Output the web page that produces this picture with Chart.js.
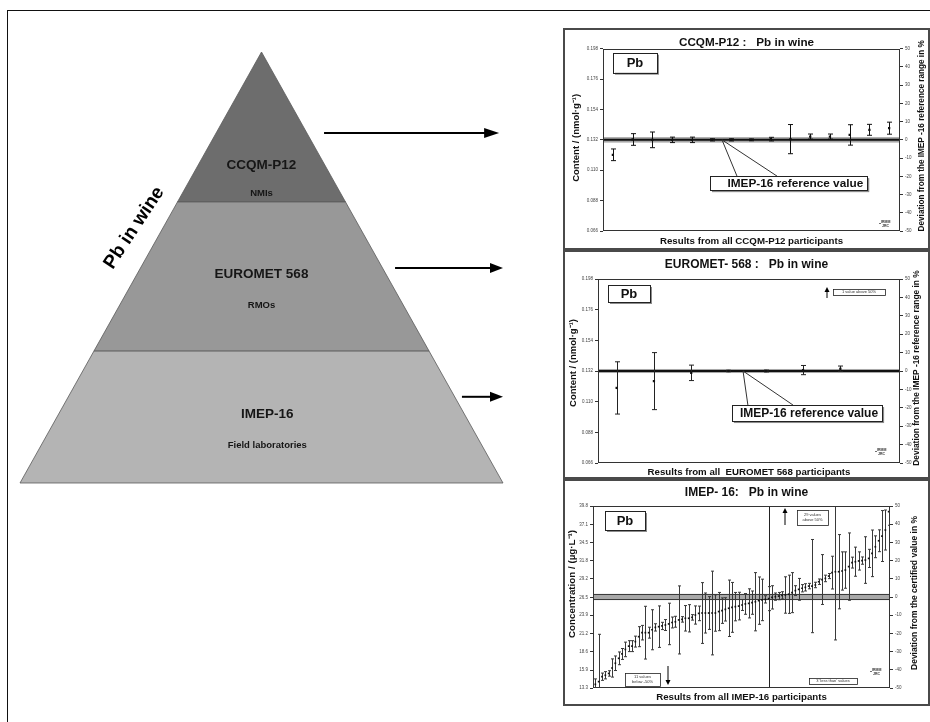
<!DOCTYPE html>
<html>
<head>
<meta charset="utf-8">
<title>Pb in wine</title>
<script src="https://cdn.jsdelivr.net/npm/chart.js@4.4.1/dist/chart.umd.min.js"></script>
<style>
  body { margin: 0; background: #fff; }
  #page { position: relative; width: 930px; height: 722px; overflow: hidden; background: #fff; }
  #frame { position: absolute; left: 7px; top: 10px; width: 940px; height: 740px; border-left: 1px solid #111; border-top: 1px solid #111; }
  #pyramid { position: absolute; left: 0; top: 0; }
  .panel { position: absolute; left: 563px; width: 367px; border: 2px solid #4a4a4a; box-sizing: border-box; background: #fff; }
  .panel canvas { display: block; }
</style>
</head>
<body>
<div id="page">
  <div id="frame"></div>
  <canvas id="pyramid" width="930" height="722"></canvas>
  <div class="panel" style="top:28px;height:222px"><canvas id="ccqm" width="363" height="218"></canvas></div>
  <div class="panel" style="top:250px;height:229px"><canvas id="euromet" width="363" height="225"></canvas></div>
  <div class="panel" style="top:479px;height:227px"><canvas id="imep" width="363" height="223"></canvas></div>
</div>
<script>
// ---- data ----
// pyramid, bottom to top
const pyramidLevels = ['IMEP-16', 'EUROMET 568', 'CCQM-P12'];
const pyramidGroups = ['Field laboratories', 'RMOs', 'NMIs'];
const pyramidBreaks = [0, 0.306, 0.652, 1];   // relative height of the layer borders

// right axis of every panel: deviation in %
const deviationTicks = [-50, -40, -30, -20, -10, 0, 10, 20, 30, 40, 50];

// CCQM-P12 (NMIs)
const ccqmDeviation = [-8.2, 0.2, 0, 0, 0, 0, 0, 0, 0.4, 0.4, 1.8, 1.8, 2.7, 5.5, 6.4];
const ccqmUncertainty = [3.2, 3.2, 4.3, 1.5, 1.5, 0.6, 0.6, 0.5, 1, 8, 1.4, 1.4, 5.6, 3, 3.3];
const ccqmContentTicks = [0.066, 0.088, 0.110, 0.132, 0.154, 0.176, 0.198];
const ccqmRefBand = [-1.5, 1.5];

// EUROMET 568 (RMOs)
const eurometDeviation = [-9.2, -5.5, -1, 0, 0, 0.5, 1.2];
const eurometUncertainty = [14.2, 15.5, 4.2, 0.4, 0.5, 2.5, 1.5];
const eurometContentTicks = [0.066, 0.088, 0.110, 0.132, 0.154, 0.176, 0.198];
const eurometRefBand = [-1.1, 1.1];

// IMEP-16 (field laboratories), sorted results
const imepDeviation = [
  -48, -46.5, -43.8, -43, -42, -39, -36.4, -33.7, -31.3, -28.8,
  -27, -27, -24.5, -21.8, -19.6, -19.6, -19.6, -18, -16.7, -16.3,
  -15.9, -15.4, -14.8, -14, -13.6, -12.6, -12.3, -11.7, -11.7, -11.2,
  -9.9, -9, -8.8, -8.8, -8.8, -8.8, -8.8, -8, -7.5, -6.8,
  -6.2, -5.7, -5.3, -5, -4.4, -3.8, -3.5, -3.1, -2.6, -2,
  -1.6, -1.3, -0.9, -0.2, 0.2, 0.5, 0.9, 1.1, 1.5,
  2.4, 3.5, 4.2, 4.8, 5.3, 6, 6, 6.6, 8.4, 9.6,
  10.2, 11.5, 13.4, 13.9, 13.9, 14.3, 14.8, 16.7, 18.9, 19.4,
  19.8, 20, 20.3, 21.2, 24, 27.6, 30.9, 33.5, 36.8, 46.9
];
const imepUncertainty = [
  3, 26, 2, 2, 1.5, 5, 4, 3.5, 3, 4,
  3, 3, 3, 5.5, 4, 14.5, 3, 11, 2, 11.4,
  2, 3, 11.4, 3, 3, 18.7, 1.5, 7, 7.5, 1.5,
  5, 4, 16.7, 11, 9, 23, 10, 10.5, 7, 6.4,
  15.5, 13.7, 7.8, 7.6, 3, 5.7, 8, 6.4, 16, 13,
  11.4, 2, 6.6, 6.4, 2, 2, 2, 10, 10.5,
  11, 2.7, 6, 2, 2, 1.5, 25.6, 1.5, 1.5, 13.7,
  1.8, 1.4, 9, 37.5, 20.4, 10.5, 10, 18.5, 3, 8,
  5, 2, 12.8, 5, 12.8, 6, 6, 14, 11, 7.5
];
const imepConcTicks = [13.3, 15.9, 18.6, 21.2, 23.9, 26.5, 29.2, 31.8, 34.5, 37.1, 39.8];
const imepRefBand = [-1.4, 1.4];
const imepSplitAt = 53;   // participant index where the vertical line sits

const FONT = '"Liberation Sans", Arial, sans-serif';
const shades = ['#b4b4b4', '#989898', '#6d6d6d'];

// ---- pyramid ----
function layerPolygon(lo, hi) {
  return [
    {x: -(1 - lo), y: lo}, {x: 1 - lo, y: lo},
    {x: 1 - hi, y: hi}, {x: -(1 - hi), y: hi},
    {x: -(1 - lo), y: lo}
  ];
}

function hArrow(ctx, x0, x1, y, lw, headL, headW) {
  ctx.lineWidth = lw;
  ctx.beginPath();
  ctx.moveTo(x0, y);
  ctx.lineTo(x1 - headL + 1, y);
  ctx.stroke();
  ctx.beginPath();
  ctx.moveTo(x1, y);
  ctx.lineTo(x1 - headL, y - headW);
  ctx.lineTo(x1 - headL, y + headW);
  ctx.closePath();
  ctx.fill();
}

const pyramidText = {
  id: 'pyramidText',
  afterDatasetsDraw(chart) {
    const {ctx, scales: {x, y}} = chart;
    ctx.save();
    ctx.fillStyle = '#161616';
    ctx.textAlign = 'center';
    ctx.textBaseline = 'middle';
    const nameY = [0.160, 0.485, 0.738];
    const groupY = [0.088, 0.413, 0.673];
    const shiftX = [0.024, 0, 0];
    pyramidLevels.forEach((name, i) => {
      ctx.font = 'bold 13.5px ' + FONT;
      ctx.fillText(name, x.getPixelForValue(shiftX[i]), y.getPixelForValue(nameY[i]));
      ctx.font = 'bold 9.5px ' + FONT;
      ctx.fillText(pyramidGroups[i], x.getPixelForValue(shiftX[i]), y.getPixelForValue(groupY[i]));
    });
    // rotated heading along the left edge
    ctx.save();
    ctx.translate(x.getPixelForValue(-0.527), y.getPixelForValue(0.592));
    ctx.rotate(-56.5 * Math.PI / 180);
    ctx.font = 'bold 19px ' + FONT;
    ctx.fillStyle = '#000';
    ctx.fillText('Pb in wine', 0, 0);
    ctx.restore();
    // arrows to the panels
    ctx.strokeStyle = '#000';
    ctx.fillStyle = '#000';
    hArrow(ctx, x.getPixelForValue(0.259), x.getPixelForValue(0.984), y.getPixelForValue(0.812), 2, 15, 5);
    hArrow(ctx, x.getPixelForValue(0.553), x.getPixelForValue(1.0), y.getPixelForValue(0.499), 2, 13, 5);
    hArrow(ctx, x.getPixelForValue(0.830), x.getPixelForValue(1.0), y.getPixelForValue(0.200), 2, 13, 5);
    ctx.restore();
  }
};

new Chart(document.getElementById('pyramid'), {
  type: 'scatter',
  data: {
    datasets: pyramidLevels.map((name, i) => ({
      label: name,
      data: layerPolygon(pyramidBreaks[i], pyramidBreaks[i + 1]),
      showLine: true,
      fill: 'shape',
      backgroundColor: shades[i],
      borderColor: '#5a5a5a',
      borderWidth: 0.8,
      pointRadius: 0,
      tension: 0
    }))
  },
  options: {
    responsive: false,
    animation: false,
    layout: {padding: 0},
    plugins: {legend: {display: false}, tooltip: {enabled: false}},
    scales: {
      x: {type: 'linear', display: false, min: -261.5 / 241.5, max: (930 - 261.5) / 241.5},
      y: {type: 'linear', display: false, min: -(722 - 483) / 431, max: 483 / 431}
    }
  },
  plugins: [pyramidText]
});

// ---- panels ----
function shadowBox(ctx, x, y, w, h, sh) {
  ctx.fillStyle = '#8c8c8c';
  ctx.fillRect(x + sh, y + sh, w, h);
  ctx.fillStyle = '#fff';
  ctx.fillRect(x, y, w, h);
  ctx.strokeStyle = '#222';
  ctx.lineWidth = 1;
  ctx.strokeRect(Math.round(x) + 0.5, Math.round(y) + 0.5, Math.round(w), Math.round(h));
}

function vArrow(ctx, x, yTail, yTip) {
  const d = yTip < yTail ? 1 : -1;
  ctx.strokeStyle = '#000';
  ctx.fillStyle = '#000';
  ctx.lineWidth = 1;
  ctx.beginPath();
  ctx.moveTo(x, yTail);
  ctx.lineTo(x, yTip + d * 3);
  ctx.stroke();
  ctx.beginPath();
  ctx.moveTo(x, yTip);
  ctx.lineTo(x - 2.5, yTip + d * 5);
  ctx.lineTo(x + 2.5, yTip + d * 5);
  ctx.closePath();
  ctx.fill();
}

function noteBox(ctx, x, y, w, h, lines) {
  ctx.fillStyle = '#fff';
  ctx.fillRect(x, y, w, h);
  ctx.strokeStyle = '#222';
  ctx.lineWidth = 0.8;
  ctx.strokeRect(x + 0.5, y + 0.5, w, h);
  ctx.fillStyle = '#333';
  ctx.font = '4px ' + FONT;
  ctx.textAlign = 'center';
  ctx.textBaseline = 'middle';
  lines.forEach((t, i) => {
    ctx.fillText(t, x + w / 2, y + h / 2 + (i - (lines.length - 1) / 2) * 5);
  });
}

function logo(ctx, x, y) {
  ctx.fillStyle = '#333';
  ctx.font = 'bold 3.5px ' + FONT;
  ctx.textAlign = 'left';
  ctx.textBaseline = 'top';
  ctx.fillText('IRMM', x + 2, y);
  ctx.fillText('JRC', x + 3, y + 4);
  ctx.fillRect(x, y + 3, 2, 0.7);
}

function sideTitle(ctx, text, size, cx, cy) {
  ctx.save();
  ctx.translate(cx, cy);
  ctx.rotate(-Math.PI / 2);
  ctx.fillStyle = '#111';
  ctx.font = 'bold ' + size + 'px ' + FONT;
  ctx.textAlign = 'center';
  ctx.textBaseline = 'middle';
  ctx.fillText(text, 0, 0);
  ctx.restore();
}

function decor(p) {
  return {
    id: 'decor',
    beforeDatasetsDraw(chart) {
      const {ctx, chartArea: a, scales: {x, y}} = chart;
      ctx.save();
      const yHi = y.getPixelForValue(p.band[1]);
      const yLo = y.getPixelForValue(p.band[0]);
      ctx.fillStyle = '#a8a8a8';
      ctx.fillRect(a.left, yHi, a.width, yLo - yHi);
      ctx.strokeStyle = '#333';
      ctx.lineWidth = 1;
      if (p.bandEdges) {
        ctx.beginPath();
        ctx.moveTo(a.left, yHi); ctx.lineTo(a.right, yHi);
        ctx.moveTo(a.left, yLo); ctx.lineTo(a.right, yLo);
        ctx.stroke();
      }
      if (p.centerLine) {
        const y0 = y.getPixelForValue(0);
        ctx.strokeStyle = '#111';
        ctx.lineWidth = 2;
        ctx.beginPath();
        ctx.moveTo(a.left, y0); ctx.lineTo(a.right, y0);
        ctx.stroke();
      }
      if (p.split) {
        const xs = Math.round(x.getPixelForValue(p.split)) + 0.5;
        ctx.strokeStyle = '#222';
        ctx.lineWidth = 1;
        ctx.beginPath();
        ctx.moveTo(xs, a.top); ctx.lineTo(xs, a.bottom);
        ctx.stroke();
      }
      // error bars
      ctx.beginPath();
      ctx.rect(a.left, a.top, a.width, a.height);
      ctx.clip();
      ctx.strokeStyle = p.barColor;
      ctx.lineWidth = 1;
      p.values.forEach((v, i) => {
        const px = Math.round(x.getPixelForValue(i + 1)) + 0.5;
        const t = y.getPixelForValue(v + p.errors[i]);
        const b = y.getPixelForValue(v - p.errors[i]);
        ctx.beginPath();
        ctx.moveTo(px, t); ctx.lineTo(px, b);
        ctx.moveTo(px - p.cap, t); ctx.lineTo(px + p.cap, t);
        ctx.moveTo(px - p.cap, b); ctx.lineTo(px + p.cap, b);
        ctx.stroke();
      });
      ctx.restore();
    },
    afterDatasetsDraw(chart) {
      const {ctx, chartArea: a, scales: {x, y}} = chart;
      ctx.save();
      // plot frame
      ctx.strokeStyle = '#333';
      ctx.lineWidth = 1;
      ctx.strokeRect(Math.round(a.left) + 0.5, Math.round(a.top) + 0.5, Math.round(a.width) - 1, Math.round(a.height) - 1);
      // axis titles on both sides, reading bottom to top
      const midY = (a.top + a.bottom) / 2;
      sideTitle(ctx, p.leftTitle, p.leftTitleSize, p.leftTitleX, midY + p.leftTitleShift);
      sideTitle(ctx, p.rightTitle, p.rightTitleSize, chart.width - p.rightTitleOffset, midY + p.rightTitleShift);
      // element box
      const pb = p.pbBox;
      shadowBox(ctx, a.left + pb[0], a.top + pb[1], pb[2], pb[3], 2);
      ctx.fillStyle = '#111';
      ctx.font = 'bold 13px ' + FONT;
      ctx.textAlign = 'center';
      ctx.textBaseline = 'middle';
      ctx.fillText('Pb', a.left + pb[0] + pb[2] / 2, a.top + pb[1] + pb[3] / 2 + 1);
      // reference value call-out
      if (p.callout) {
        const c = p.callout;
        const bx0 = x.getPixelForValue(c.box[0]), bx1 = x.getPixelForValue(c.box[1]);
        const by0 = y.getPixelForValue(c.box[2]), by1 = y.getPixelForValue(c.box[3]);
        const tx = x.getPixelForValue(c.tip[0]), ty = y.getPixelForValue(c.tip[1]);
        ctx.strokeStyle = '#333';
        ctx.lineWidth = 1;
        ctx.beginPath();
        ctx.moveTo(x.getPixelForValue(c.from[0]), by0); ctx.lineTo(tx, ty);
        ctx.lineTo(x.getPixelForValue(c.from[1]), by0);
        ctx.stroke();
        shadowBox(ctx, bx0, by0, bx1 - bx0, by1 - by0, 2);
        ctx.fillStyle = '#111';
        ctx.font = 'bold ' + c.size + 'px ' + FONT;
        ctx.textAlign = 'right';
        ctx.textBaseline = 'middle';
        ctx.fillText('IMEP-16 reference value', bx1 - 4, (by0 + by1) / 2 + 1);
      }
      (p.arrows || []).forEach(ar => vArrow(ctx, a.left + ar[0], a.top + ar[1], a.top + ar[2]));
      (p.notes || []).forEach(n => noteBox(ctx, a.left + n[0], a.top + n[1], n[2], n[3], n[4]));
      logo(ctx, a.right + p.logo[0], a.bottom + p.logo[1]);
      ctx.restore();
    }
  };
}

function panel(id, p) {
  const tickFont = {family: FONT, size: 4.5};
  return new Chart(document.getElementById(id), {
    type: 'scatter',
    data: {
      datasets: [{
        data: p.values.map((v, i) => ({x: i + 1, y: v})),
        xAxisID: 'x',
        yAxisID: 'y',
        pointStyle: 'rect',
        pointRadius: p.pointR,
        backgroundColor: '#111',
        borderColor: '#111',
        borderWidth: 0
      }]
    },
    options: {
      responsive: false,
      animation: false,
      layout: {padding: 0},
      plugins: {
        legend: {display: false},
        tooltip: {enabled: false},
        title: {
          display: true, text: p.title, color: '#111',
          font: {family: FONT, size: p.titleSize, weight: 'bold', lineHeight: 1},
          padding: {top: p.titlePad[0], bottom: p.titlePad[1]}
        }
      },
      scales: {
        x: {
          type: 'linear', min: p.xRange[0], max: p.xRange[1],
          afterFit: s => { s.height = p.xH; },
          ticks: {display: false}, grid: {display: false}, border: {display: false},
          title: {
            display: true, text: p.xTitle, color: '#111',
            font: {family: FONT, size: 9.7, weight: 'bold', lineHeight: 1},
            padding: {top: 0, bottom: p.xTitlePad}
          }
        },
        y: {
          type: 'linear', position: 'right', min: -50, max: 50,
          afterBuildTicks: s => { s.ticks = deviationTicks.map(v => ({value: v})); },
          afterFit: s => { s.width = p.rightW; },
          ticks: {font: tickFont, color: '#444', padding: 2},
          grid: {drawOnChartArea: false, tickLength: 3, color: '#333'},
          border: {display: false}
        },
        yL: {
          type: 'linear', position: 'left',
          min: p.leftTicks[0], max: p.leftTicks[p.leftTicks.length - 1],
          afterBuildTicks: s => { s.ticks = p.leftTicks.map(v => ({value: v})); },
          afterFit: s => { s.width = p.leftW; },
          ticks: {font: tickFont, color: '#444', padding: 2, callback: v => v.toFixed(p.leftDec)},
          grid: {drawOnChartArea: false, tickLength: 3, color: '#333'},
          border: {display: false}
        }
      }
    },
    plugins: [decor(p)]
  });
}

panel('ccqm', {
  title: 'CCQM-P12 :   Pb in wine', titleSize: 11.7,
  xTitle: 'Results from all CCQM-P12 participants',
  leftTitle: 'Content / (nmol\u00b7g\u207b\u00b9)',
  rightTitle: 'Deviation from the IMEP -16 reference range in %',
  values: ccqmDeviation, errors: ccqmUncertainty, leftTicks: ccqmContentTicks, leftDec: 3,
  band: ccqmRefBand, centerLine: true, bandEdges: false,
  xRange: [0.5, 15.55],
  titlePad: [7, 0], xH: 17, xTitlePad: 2.15,
  leftW: 38, leftTitleSize: 9.5, leftTitleX: 11, leftTitleShift: -2,
  rightW: 28, rightTitleSize: 8.2, rightTitleOffset: 6, rightTitleShift: -4,
  pointR: 1.6, cap: 2.5, barColor: '#111',
  pbBox: [10, 4, 44, 20],
  callout: {box: [5.92, 13.89, -19.9, -27.6], tip: [6.53, 0], from: [7.29, 9.32], size: 11.8},
  logo: [-21, -11]
});

panel('euromet', {
  title: 'EUROMET- 568 :   Pb in wine', titleSize: 12,
  xTitle: 'Results from all  EUROMET 568 participants',
  leftTitle: 'Content / (nmol\u00b7g\u207b\u00b9)',
  rightTitle: 'Deviation from the IMEP -16 reference range in %',
  values: eurometDeviation, errors: eurometUncertainty, leftTicks: eurometContentTicks, leftDec: 3,
  band: eurometRefBand, centerLine: true, bandEdges: false,
  xRange: [0.5, 8.6],
  titlePad: [7, 8], xH: 14, xTitlePad: 0.15,
  leftW: 33, leftTitleSize: 9.5, leftTitleX: 8, leftTitleShift: -8,
  rightW: 28, rightTitleSize: 8.4, rightTitleOffset: 11, rightTitleShift: -3,
  pointR: 1.6, cap: 2.5, barColor: '#222',
  pbBox: [10, 6, 42, 17],
  callout: {box: [4.09, 8.12, -18.5, -27.2], tip: [4.39, 0], from: [4.52, 5.73], size: 12},
  arrows: [[229, 19, 8]],
  notes: [[235, 10, 52, 6, ['1 value above 50%']]],
  logo: [-25, -15]
});

panel('imep', {
  title: 'IMEP- 16:   Pb in wine', titleSize: 12,
  xTitle: 'Results from all IMEP-16 participants',
  leftTitle: 'Concentration / (\u00b5g\u00b7L\u207b\u00b9)',
  rightTitle: 'Deviation from the certified value in %',
  values: imepDeviation, errors: imepUncertainty, leftTicks: imepConcTicks, leftDec: 1,
  band: imepRefBand, centerLine: false, bandEdges: true, split: imepSplitAt,
  xRange: [0.3, 89.4],
  titlePad: [6, 7], xH: 16, xTitlePad: 2.15,
  leftW: 28, leftTitleSize: 9.8, leftTitleX: 7, leftTitleShift: -13,
  rightW: 38, rightTitleSize: 8.5, rightTitleOffset: 13, rightTitleShift: -4,
  pointR: 1.2, cap: 1.5, barColor: '#3a3a3a',
  pbBox: [12, 5, 40, 19],
  arrows: [[192, 19, 2], [75, 160, 179]],
  notes: [
    [204, 4, 31, 15, ['29 values', 'above 50%']],
    [32, 167, 35, 13, ['11 values', 'below -50%']],
    [216, 172, 48, 6, ["3 'less than' values"]]
  ],
  logo: [-20, -20]
});
</script>
</body>
</html>
